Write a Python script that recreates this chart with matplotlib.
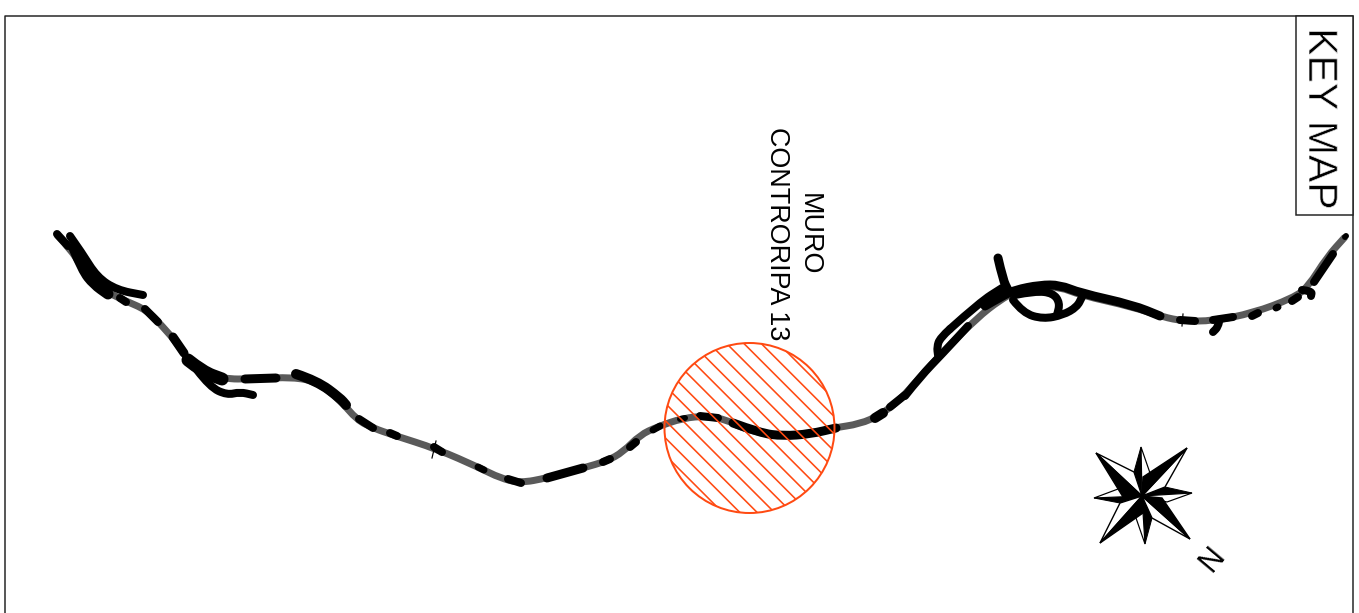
import matplotlib
matplotlib.use("Agg")
import matplotlib.pyplot as plt
import matplotlib.patheffects as pe
from matplotlib.patches import Circle, PathPatch, Polygon, Rectangle
from matplotlib.path import Path
import numpy as np

plt.rcParams['font.family'] = ['Liberation Sans', 'DejaVu Sans']

W, H = 1359, 613
GREY = '#5a5a5a'
RED = '#ff4a12'

# main road in pixels
road_x = [57, 73, 83, 97, 123, 147, 163, 177, 188, 203, 223, 253, 293, 317, 340, 357, 373, 393,
          437, 480, 500, 520, 547, 583, 607, 623, 640, 657, 683, 707, 727, 740, 760, 783, 810,
          833, 860, 880, 900, 920, 943, 977, 1000, 1015, 1040, 1060, 1080, 1133, 1163, 1183,
          1213, 1253, 1293, 1308, 1327, 1345]
road_y = [235, 252, 270, 287, 300, 310, 327, 343, 360, 370, 379, 379, 377, 382, 400, 420, 428, 435,
          449, 468, 478, 483, 478, 468, 461, 452, 435, 427, 418, 416, 420, 427, 433, 436, 434,
          428, 424, 415, 400, 377, 352, 318, 300, 292, 287, 287, 295, 307, 317, 321,
          321, 313, 298, 287, 257, 237]

# black stretches on top of the road: (xs, ys, width in px)
black_parts = [
    ([57, 68], [234, 246], 8),
    ([70, 82, 97, 117, 143], [236, 253, 277, 290, 295], 8),
    ([74, 83, 94, 108], [248, 270, 284, 294], 11),
    ([120, 126], [298, 302], 8),
    ([145, 158], [309, 322], 8),
    ([173, 184], [337, 353], 9),
    ([188, 203, 222], [360, 372, 379], 13),
    ([197, 210, 227, 240, 253], [370, 387, 395, 392, 395], 8),
    ([245, 276], [379, 378], 9),
    ([296, 317, 340, 346], [374, 381, 398, 405], 10),
    ([359, 373], [419, 428], 8),
    ([390, 397], [433, 436], 8),
    ([434, 442], [447, 452], 8),
    ([478, 484], [467, 470], 7),
    ([508, 521], [479, 483], 8),
    ([547, 583], [478, 468], 9),
    ([603, 610], [462, 459], 8),
    ([630, 636], [447, 442], 8),
    ([653, 660], [430, 426], 7),
    ([680, 685], [419, 418], 6),
    ([700, 718], [416, 418], 8),
    ([733, 760, 783, 810, 836], [423, 433, 436, 434, 428], 9),
    ([875, 883], [418, 413], 10),
    ([890, 905], [407, 395], 8),
    ([905, 920, 943, 968], [396, 377, 353, 326], 8),
    ([950, 980, 1002], [329, 302, 288], 8),
    ([950, 940, 937, 938], [329, 338, 347, 355], 8),
    ([998, 1003, 1008], [258, 280, 290], 9),
    ([985, 1002, 1015, 1040, 1060, 1080, 1133, 1160],
     [306, 296, 290, 285, 285, 293, 305, 316], 9),
    ([1013, 1023, 1043, 1063, 1077, 1082], [300, 313, 319, 315, 307, 297], 8),
    ([1015, 1035, 1053, 1060, 1057], [295, 291, 293, 303, 315], 8),
    ([1180, 1195], [320, 321], 8),
    ([1213, 1233], [320, 317], 8),
    ([1219, 1218, 1213], [322, 327, 332], 8),
    ([1252, 1258], [316, 313], 8),
    ([1276, 1278], [308, 307], 7),
    ([1292, 1298], [301, 297], 8),
    ([1302, 1312, 1311], [290, 291, 296], 8),
    ([1314, 1333], [282, 254], 8),
    ([1345, 1346], [237, 236], 6),
]

# thin cross ticks on the road
tick_x = [[436, 432], [1183, 1182]]
tick_y = [[441, 458], [314, 326]]

# compass rose
centre = (1142, 496)
long_tips = [(1187, 448), (1190, 539), (1100, 543), (1096, 453)]
short_tips = [(1141, 447), (1192, 493), (1145, 544), (1094, 498)]
# where the black half of a long point ends, on the short point axis
long_inner = [(1143, 477), (1162, 498), (1143, 513), (1123, 497)]
notch_a = [(1150, 473), (1167, 502), (1136, 518), (1118, 489)]
notch_b = [(1165, 487), (1152, 518), (1120, 503), (1134, 472)]
notch_prev = [(1134, 472), (1165, 487), (1152, 518), (1120, 503)]

circle_xy = (749.5, 428)
circle_r = 85
hatch_first = 435
hatch_step = 17.3
hatch_count = 14


def smooth_path(xs, ys):
    # quadratic curve through the midpoints, so the road has no corners
    pts = list(zip(xs, ys))
    if len(pts) < 3:
        return Path(pts)
    verts = [pts[0]]
    codes = [Path.MOVETO]
    for a, b in zip(pts[1:-1], pts[2:]):
        verts += [a, ((a[0] + b[0]) / 2, (a[1] + b[1]) / 2)]
        codes += [Path.CURVE3, Path.CURVE3]
    verts.append(pts[-1])
    codes.append(Path.LINETO)
    return Path(verts, codes)


fig = plt.figure(figsize=(W / 100, H / 100), dpi=100)
ax = fig.add_axes([0, 0, 1, 1])
ax.set_xlim(0, W)
ax.set_ylim(H, 0)
ax.axis('off')

px = 72 / 100
thin = [pe.Normal(), pe.Stroke(linewidth=0.5, foreground='white')]

# frame and key map box
ax.plot([5, 5, 1353, 1353], [H + 5, 16, 16, H + 5], color='#222222', lw=1.5 * px, zorder=1)
ax.add_patch(Rectangle((1296, 16), 57, 199, fc='white', ec='#222222', lw=1.5 * px, zorder=2))
ax.text(1320, 119, 'KEY MAP', rotation=-90, ha='center', va='center', fontsize=29.5, zorder=3,
        path_effects=thin)

# road
ax.add_patch(PathPatch(smooth_path(road_x, road_y), fc='none', ec=GREY, lw=7 * px,
                       joinstyle='round', capstyle='butt', zorder=3))
for xs, ys, w in black_parts:
    ax.add_patch(PathPatch(smooth_path(xs, ys), fc='none', ec='black', lw=w * px,
                           joinstyle='round', capstyle='round', zorder=4))
for xs, ys in zip(tick_x, tick_y):
    ax.plot(xs, ys, color='black', lw=1.2 * px, zorder=4)

# hatched circle
ring = Circle(circle_xy, circle_r, fc='none', ec=RED, lw=2 * px, zorder=6)
ax.add_patch(ring)
for i in range(hatch_count):
    off = hatch_first - i * hatch_step
    ys = np.array([300, 560])
    line, = ax.plot(ys + off, ys, color=RED, lw=1.6 * px, zorder=5)
    line.set_clip_path(ring)

# labels
ax.text(809, 234, 'MURO', rotation=-90, ha='center', va='center', fontsize=19.4, zorder=3)
ax.text(777, 234, 'CONTRORIPA 13', rotation=-90, ha='center', va='center', fontsize=19.4, zorder=3)

# compass
for i in range(4):
    tip = short_tips[i]
    ax.add_patch(Polygon([centre, notch_prev[i], tip], fc='black', ec='black', lw=px, zorder=7))
    ax.add_patch(Polygon([centre, tip, notch_a[i]], fc='white', ec='black', lw=1.2 * px, zorder=7))
for i in range(4):
    tip = long_tips[i]
    ax.add_patch(Polygon([centre, tip, notch_b[i]], fc='white', ec='black', lw=1.4 * px, zorder=8))
    ax.add_patch(Polygon([centre, long_inner[i], tip], fc='black', ec='black', lw=1.4 * px, zorder=9))
ax.text(1212, 559, 'N', rotation=50, ha='center', va='center', fontsize=22, zorder=8)

fig.savefig('out.png', dpi=100)
